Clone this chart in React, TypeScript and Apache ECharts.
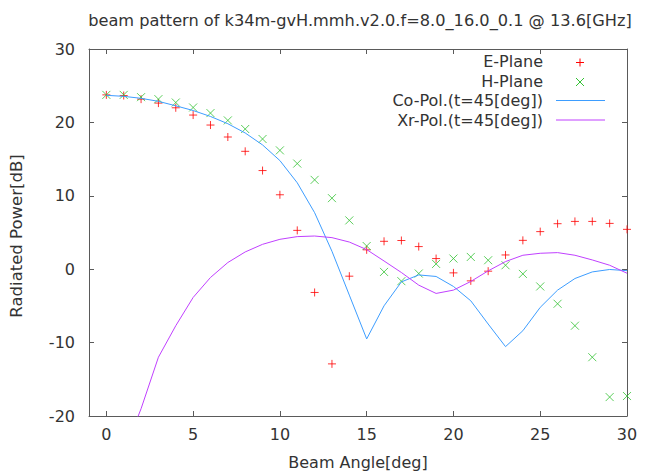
import React, { useEffect, useRef } from 'react';
import * as echarts from 'echarts';

const angles = [0, 1, 2, 3, 4, 5, 6, 7, 8, 9, 10, 11, 12, 13, 14, 15, 16, 17, 18, 19, 20, 21, 22, 23, 24, 25, 26, 27, 28, 29, 30];
const ePlane = [23.75, 23.66, 23.17, 22.63, 21.99, 21.0, 19.64, 18.01, 16.06, 13.44, 10.14, 5.29, -3.17, -12.9, -0.95, 2.64, 3.8, 3.91, 3.08, 1.45, -0.5, -1.59, -0.27, 1.94, 3.93, 5.12, 6.2, 6.51, 6.51, 6.24, 5.43];
const hPlane = [23.75, 23.75, 23.44, 23.17, 22.71, 22.03, 21.27, 20.27, 19.1, 17.74, 16.19, 14.39, 12.17, 9.68, 6.65, 3.16, -0.37, -1.63, -0.59, 0.72, 1.45, 1.67, 1.22, 0.54, -0.64, -2.35, -4.71, -7.7, -11.99, -17.42, -17.28];
const coPol = [23.69, 23.55, 23.28, 22.87, 22.26, 21.62, 20.81, 19.82, 18.56, 16.93, 14.8, 11.77, 7.7, 2.44, -3.53, -9.5, -4.99, -1.73, -0.78, -0.99, -2.35, -4.31, -7.47, -10.55, -8.38, -5.2, -2.85, -1.27, -0.37, -0.04, -0.2];
const xrPol = [-40, -25, -19.01, -11.99, -7.7, -3.85, -1.13, 0.91, 2.35, 3.39, 4.07, 4.44, 4.52, 4.3, 3.7, 2.67, 1.12, -0.45, -2.17, -3.3, -2.85, -1.67, -0.23, 1.04, 1.9, 2.17, 2.26, 1.9, 1.26, 0.54, -0.55];

const xTicks = [0, 5, 10, 15, 20, 25, 30];
const yTicks = [-20, -10, 0, 10, 20, 30];
const titleText = 'beam pattern of k34m-gvH.mmh.v2.0.f=8.0_16.0_0.1 @ 13.6[GHz]';
const xName = 'Beam Angle[deg]';
const yName = 'Radiated Power[dB]';
const legendLabels = ['E-Plane', 'H-Plane', 'Co-Pol.(t=45[deg])', 'Xr-Pol.(t=45[deg])'];

const FONT = '"DejaVu Sans", sans-serif';
const TEXT = '#333333';
const FRAME = '#5a5a5a';
const RED = '#ff0000';
const GREEN = '#33c233';
const BLUE = '#3d9dff';
const MAGENTA = '#c040ff';

const PLUS = 'path://M0,4L8,4M4,0L4,8';
const CROSS = 'path://M0,0L8,8M8,0L0,8';

const pair = (vals: number[]) => angles.map((a, i) => [a, vals[i]]);

function axisCommon(pos: string, ticks: number[]) {
  return {
    type: 'value',
    position: pos,
    axisLine: { show: true, onZero: false, lineStyle: { color: FRAME, width: 1 } },
    axisTick: { show: true, inside: true, length: 5, customValues: ticks, lineStyle: { color: FRAME, width: 1 } },
    splitLine: { show: false },
  };
}

export default function App() {
  const ref = useRef<HTMLDivElement>(null);
  useEffect(() => {
    if (!ref.current) return;
    const chart = echarts.init(ref.current, null, { renderer: 'svg' });
    const legendRows = [61.5, 81, 100.5, 120];
    const lx = 543;
    const graphics: any[] = [];
    legendLabels.forEach((t, i) => {
      graphics.push({
        type: 'text', x: lx, y: legendRows[i], silent: true,
        style: { text: t, align: 'right', verticalAlign: 'middle', font: `16px ${FONT}`, fill: TEXT },
      });
    });
    const mx = 580, my0 = legendRows[0] + 1, my1 = legendRows[1] + 1;
    const h = 4;
    graphics.push(
      { type: 'line', silent: true, shape: { x1: mx - h, y1: my0, x2: mx + h, y2: my0 }, style: { stroke: RED, lineWidth: 1 } },
      { type: 'line', silent: true, shape: { x1: mx, y1: my0 - h, x2: mx, y2: my0 + h }, style: { stroke: RED, lineWidth: 1 } },
      { type: 'line', silent: true, shape: { x1: mx - h, y1: my1 - h, x2: mx + h, y2: my1 + h }, style: { stroke: GREEN, lineWidth: 1 } },
      { type: 'line', silent: true, shape: { x1: mx + h, y1: my1 - h, x2: mx - h, y2: my1 + h }, style: { stroke: GREEN, lineWidth: 1 } },
      { type: 'line', silent: true, shape: { x1: 556, y1: legendRows[2], x2: 605, y2: legendRows[2] }, style: { stroke: BLUE, lineWidth: 1 } },
      { type: 'line', silent: true, shape: { x1: 556, y1: legendRows[3], x2: 605, y2: legendRows[3] }, style: { stroke: MAGENTA, lineWidth: 1 } },
    );

    chart.setOption({
      animation: false,
      backgroundColor: '#ffffff',
      textStyle: { fontFamily: FONT },
      title: {
        text: titleText, left: 355, top: 7, textAlign: 'center',
        textStyle: { fontSize: 16.2, fontWeight: 'normal', color: TEXT, fontFamily: FONT },
      },
      grid: { left: 89, top: 49, width: 538, height: 368, containLabel: false },
      xAxis: [
        {
          ...axisCommon('bottom', xTicks), min: -1, max: 30,
          axisLabel: { show: true, customValues: xTicks, color: TEXT, fontSize: 16, fontFamily: FONT, margin: 10 },
          name: xName, nameLocation: 'middle', nameGap: 38,
          nameTextStyle: { color: TEXT, fontSize: 16, fontFamily: FONT },
        },
        { ...axisCommon('top', xTicks), min: -1, max: 30, axisLabel: { show: false } },
      ],
      yAxis: [
        {
          ...axisCommon('left', yTicks), min: -20, max: 30,
          axisLabel: { show: true, customValues: yTicks, color: TEXT, fontSize: 16, fontFamily: FONT, margin: 14 },
          name: yName, nameLocation: 'middle', nameGap: 64,
          nameTextStyle: { color: TEXT, fontSize: 16.5, fontFamily: FONT, padding: [0, 7, 0, 0] },
        },
        { ...axisCommon('right', yTicks), min: -20, max: 30, axisLabel: { show: false } },
      ],
      series: [
        {
          type: 'scatter', name: legendLabels[0], data: pair(ePlane), symbol: PLUS, symbolSize: 8, silent: true,
          itemStyle: { color: 'rgba(0,0,0,0)', borderColor: RED, borderWidth: 1 },
        },
        {
          type: 'scatter', name: legendLabels[1], data: pair(hPlane), symbol: CROSS, symbolSize: 8, silent: true,
          itemStyle: { color: 'rgba(0,0,0,0)', borderColor: GREEN, borderWidth: 1 },
        },
        {
          type: 'line', name: legendLabels[2], data: pair(coPol), symbol: 'none', silent: true, clip: true,
          lineStyle: { color: BLUE, width: 1 },
        },
        {
          type: 'line', name: legendLabels[3], data: pair(xrPol), symbol: 'none', silent: true, clip: true,
          lineStyle: { color: MAGENTA, width: 1 },
        },
      ],
      graphic: graphics,
    });
    return () => chart.dispose();
  }, []);
  return <div ref={ref} style={{ position: 'fixed', left: 0, top: 0, width: 653, height: 475, background: '#fff' }} />;
}
